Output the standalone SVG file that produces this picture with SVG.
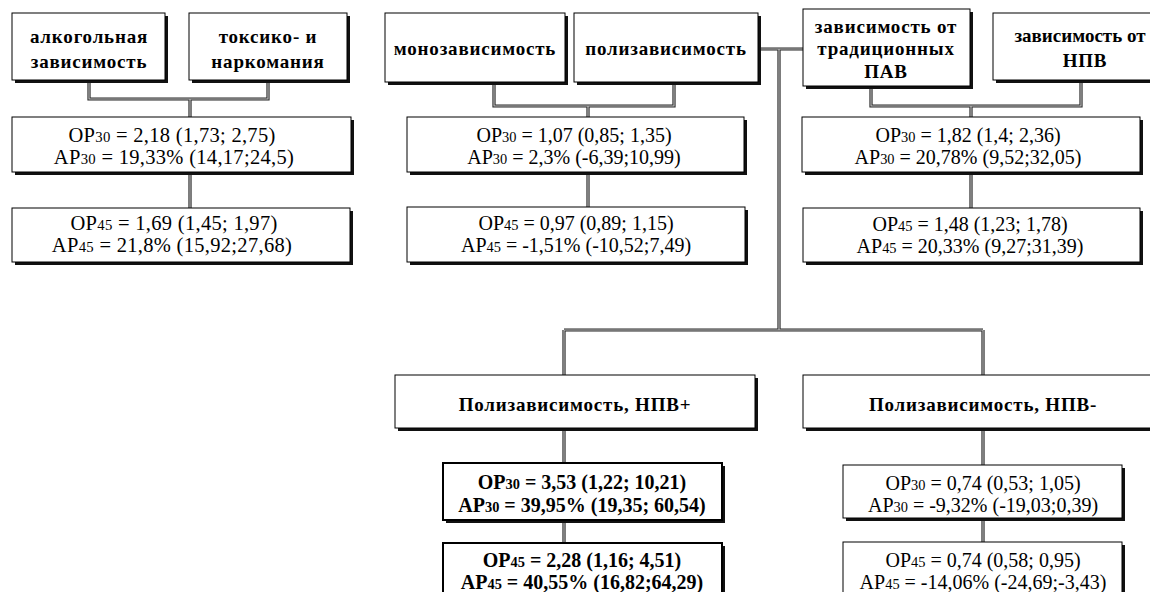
<svg xmlns="http://www.w3.org/2000/svg" xmlns:xlink="http://www.w3.org/1999/xlink" width="1150" height="592" viewBox="0 0 1150 592">
<style>
.bg{fill:#ffffff}
.shadow{fill:#111111}
.box{fill:#ffffff;stroke:#000000;stroke-width:1}
.boxb{fill:#ffffff;stroke:#000000;stroke-width:2}
.hd{font-family:"Liberation Serif","Times New Roman",serif;font-weight:bold;font-size:19px;letter-spacing:0.8px;text-anchor:middle;fill:#000}
.tight{letter-spacing:0px}
.val{font-family:"Liberation Serif","Times New Roman",serif;font-size:20px;text-anchor:middle;fill:#000}
.valL{font-size:20.5px;letter-spacing:0.3px}
.valB{font-weight:bold}
.sub{font-size:72%}
.wo{fill:none;stroke:#262626;stroke-width:3.2}
.wi{fill:none;stroke:#c8c8c8;stroke-width:1.1}
</style>
<defs>
<path id="wires" d="M89,80 V99 H268 V80 M190,99 V117 M190,172 V208 M494,82 V106 H674 V82 M588,106 V117 M588,172 V207 M871,86 V106 H1081 V80 M971,106 V117 M971,172 V208 M758,49 H803 M779,49 V330 M564,330 H983 M564,330 V375 M983,330 V375 M564,428 V463 M564,520 V543 M983,428 V465 M983,518 V542"/>
</defs>
<rect class="bg" x="0" y="0" width="1150" height="592"/>
<g id="connectors">
<use xlink:href="#wires" class="wo"/>
<use xlink:href="#wires" class="wi"/>
</g>
<g id="n_alc">
<rect class="shadow" x="15" y="16" width="153" height="67"/>
<rect class="box" x="12" y="13" width="153" height="67"/>
<text class="hd" x="89" y="43">алкогольная</text>
<text class="hd" x="89" y="68">зависимость</text>
</g>
<g id="n_tox">
<rect class="shadow" x="192" y="16" width="158" height="67"/>
<rect class="box" x="189" y="13" width="158" height="67"/>
<text class="hd" x="268" y="43">токсико- и</text>
<text class="hd" x="268" y="68">наркомания</text>
</g>
<g id="n_mono">
<rect class="shadow" x="388" y="16" width="180" height="69"/>
<rect class="box" x="385" y="13" width="180" height="69"/>
<text class="hd" x="475" y="55">монозависимость</text>
</g>
<g id="n_poly">
<rect class="shadow" x="577" y="16" width="184" height="69"/>
<rect class="box" x="574" y="13" width="184" height="69"/>
<text class="hd" x="666" y="55">полизависимость</text>
</g>
<g id="n_trad">
<rect class="shadow" x="806" y="12" width="167" height="77"/>
<rect class="box" x="803" y="9" width="167" height="77"/>
<text class="hd" x="886" y="33">зависимость от</text>
<text class="hd" x="886" y="55">традиционных</text>
<text class="hd" x="886" y="78">ПАВ</text>
</g>
<g id="n_npv">
<rect class="shadow" x="996" y="16" width="185" height="67"/>
<rect class="box" x="993" y="13" width="185" height="67"/>
<text class="hd tight" x="1080" y="42">зависимость от</text>
<text class="hd" x="1085" y="67">НПВ</text>
</g>
<g id="r_alc30">
<rect class="shadow" x="15" y="120" width="339" height="55"/>
<rect class="box" x="12" y="117" width="339" height="55"/>
<text class="val valL" x="172" y="142">ОР<tspan class="sub">30</tspan> = 2,18 (1,73; 2,75)</text>
<text class="val valL" x="174" y="164">АР<tspan class="sub">30</tspan> = 19,33% (14,17;24,5)</text>
</g>
<g id="r_alc45">
<rect class="shadow" x="15" y="211" width="338" height="54"/>
<rect class="box" x="12" y="208" width="338" height="54"/>
<text class="val valL" x="174" y="230">ОР<tspan class="sub">45</tspan> = 1,69 (1,45; 1,97)</text>
<text class="val valL" x="172" y="252">АР<tspan class="sub">45</tspan> = 21,8% (15,92;27,68)</text>
</g>
<g id="r_mono30">
<rect class="shadow" x="410" y="120" width="337" height="55"/>
<rect class="box" x="407" y="117" width="337" height="55"/>
<text class="val" x="574" y="142">ОР<tspan class="sub">30</tspan> = 1,07 (0,85; 1,35)</text>
<text class="val" x="574" y="164">АР<tspan class="sub">30</tspan> = 2,3% (-6,39;10,99)</text>
</g>
<g id="r_mono45">
<rect class="shadow" x="410" y="210" width="338" height="55"/>
<rect class="box" x="407" y="207" width="338" height="55"/>
<text class="val" x="576" y="230">ОР<tspan class="sub">45</tspan> = 0,97 (0,89; 1,15)</text>
<text class="val" x="576" y="252">АР<tspan class="sub">45</tspan> = -1,51% (-10,52;7,49)</text>
</g>
<g id="r_trad30">
<rect class="shadow" x="805" y="120" width="338" height="55"/>
<rect class="box" x="802" y="117" width="338" height="55"/>
<text class="val" x="968" y="142">ОР<tspan class="sub">30</tspan> = 1,82 (1,4; 2,36)</text>
<text class="val" x="968" y="164">АР<tspan class="sub">30</tspan> = 20,78% (9,52;32,05)</text>
</g>
<g id="r_trad45">
<rect class="shadow" x="806" y="211" width="337" height="54"/>
<rect class="box" x="803" y="208" width="337" height="54"/>
<text class="val" x="970" y="231">ОР<tspan class="sub">45</tspan> = 1,48 (1,23; 1,78)</text>
<text class="val" x="970" y="253">АР<tspan class="sub">45</tspan> = 20,33% (9,27;31,39)</text>
</g>
<g id="n_polyplus">
<rect class="shadow" x="398" y="378" width="360" height="53"/>
<rect class="box" x="395" y="375" width="360" height="53"/>
<text class="hd" x="575" y="411">Полизависимость, НПВ+</text>
</g>
<g id="n_polyminus">
<rect class="shadow" x="806" y="378" width="360" height="53"/>
<rect class="box" x="803" y="375" width="360" height="53"/>
<text class="hd" x="983" y="411">Полизависимость, НПВ-</text>
</g>
<g id="r_plus30">
<rect class="shadow" x="446" y="466" width="279" height="57"/>
<rect class="boxb" x="443" y="463" width="279" height="57"/>
<text class="val valB" x="582" y="489">ОР<tspan class="sub">30</tspan> = 3,53 (1,22; 10,21)</text>
<text class="val valB" x="582" y="512">АР<tspan class="sub">30</tspan> = 39,95% (19,35; 60,54)</text>
</g>
<g id="r_plus45">
<rect class="shadow" x="446" y="546" width="279" height="60"/>
<rect class="boxb" x="443" y="543" width="279" height="60"/>
<text class="val valB" x="582" y="567">ОР<tspan class="sub">45</tspan> = 2,28 (1,16; 4,51)</text>
<text class="val valB" x="582" y="589">АР<tspan class="sub">45</tspan> = 40,55% (16,82;64,29)</text>
</g>
<g id="r_minus30">
<rect class="shadow" x="846" y="468" width="279" height="53"/>
<rect class="box" x="843" y="465" width="279" height="53"/>
<text class="val" x="983" y="490">ОР<tspan class="sub">30</tspan> = 0,74 (0,53; 1,05)</text>
<text class="val" x="983" y="512">АР<tspan class="sub">30</tspan> = -9,32% (-19,03;0,39)</text>
</g>
<g id="r_minus45">
<rect class="shadow" x="846" y="545" width="279" height="60"/>
<rect class="box" x="843" y="542" width="279" height="60"/>
<text class="val" x="983" y="567">ОР<tspan class="sub">45</tspan> = 0,74 (0,58; 0,95)</text>
<text class="val" x="983" y="589">АР<tspan class="sub">45</tspan> = -14,06% (-24,69;-3,43)</text>
</g>
</svg>
